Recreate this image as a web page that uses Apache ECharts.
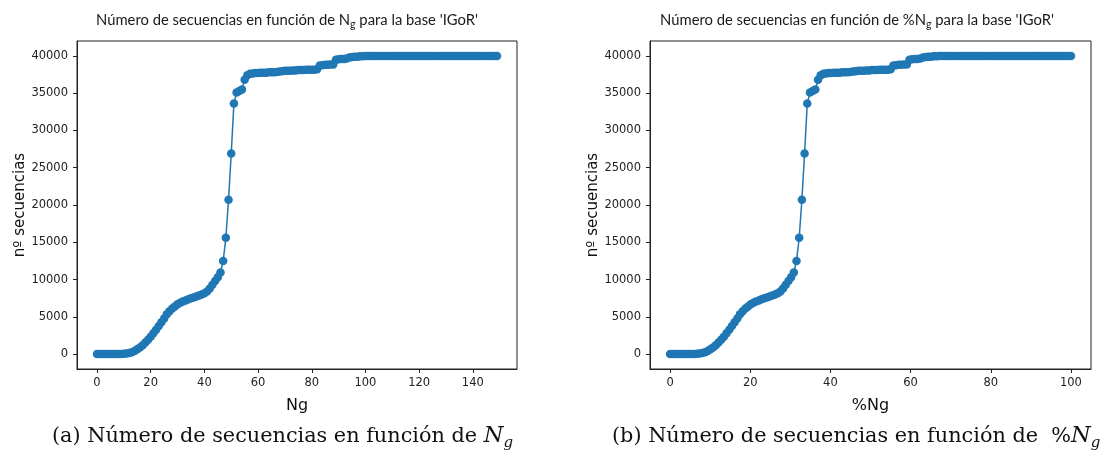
<!DOCTYPE html>
<html>
<head>
<meta charset="utf-8">
<script src="https://cdn.jsdelivr.net/npm/echarts@6/dist/echarts.min.js"></script>
<style>
  html, body { margin: 0; padding: 0; background: #ffffff; }
  #chart { width: 1106px; height: 458px; }
</style>
</head>
<body>
<div id="chart"></div>
<script>
// Number of sequences of the 'IGoR' base kept for each value of Ng (0 .. 149)
const sequenceCounts = [
  0, 0, 0, 0, 0, 0, 0, 0, 0, 20,
  40, 80, 150, 260, 420, 640, 900, 1200, 1550, 1920,
  2320, 2780, 3260, 3760, 4260, 4780, 5350, 5750, 6100, 6400,
  6700, 6900, 7050, 7200, 7350, 7480, 7600, 7720, 7850, 8000,
  8150, 8400, 8800, 9300, 9800, 10300, 10950, 12500, 15600, 20700,
  26900, 33600, 35100, 35300, 35500, 36800, 37400, 37600, 37650, 37700,
  37700, 37750, 37750, 37750, 37800, 37800, 37800, 37850, 37900, 37950,
  38000, 38000, 38000, 38050, 38050, 38100, 38100, 38100, 38150, 38150,
  38150, 38150, 38200, 38700, 38750, 38800, 38800, 38850, 38850, 39500,
  39550, 39600, 39600, 39650, 39800, 39850, 39900, 39900, 39950, 39950,
  40000, 40000, 40000, 40000, 40000, 40000, 40000, 40000, 40000, 40000,
  40000, 40000, 40000, 40000, 40000, 40000, 40000, 40000, 40000, 40000,
  40000, 40000, 40000, 40000, 40000, 40000, 40000, 40000, 40000, 40000,
  40000, 40000, 40000, 40000, 40000, 40000, 40000, 40000, 40000, 40000,
  40000, 40000, 40000, 40000, 40000, 40000, 40000, 40000, 40000, 40000
];

// Ng runs over the integers 0 .. 149, one per count
const ngValues = sequenceCounts.map((_, i) => i);
const maxNg = ngValues[ngValues.length - 1];
// %Ng: Ng expressed as a percentage of its largest value
const pctValues = ngValues.map(n => n / maxNg * 100);

const ngTicks = [0, 20, 40, 60, 80, 100, 120, 140];
const pctTicks = [0, 20, 40, 60, 80, 100];
const countTicks = [0, 5000, 10000, 15000, 20000, 25000, 30000, 35000, 40000];

const blue = '#1f77b4';
const ink = '#222222';
const plain = v => String(Math.round(v));

const chart = echarts.init(document.getElementById('chart'), null, { renderer: 'canvas' });

function xAxisFor(gridIndex, min, max, ticks, name) {
  return {
    type: 'value', gridIndex, min, max,
    name, nameLocation: 'middle', nameGap: 29,
    nameTextStyle: { fontFamily: 'DejaVu Sans', fontSize: 16, color: '#111' },
    axisLine: { show: true, onZero: false, lineStyle: { color: ink, width: 1 } },
    axisTick: { show: true, customValues: ticks, length: 4, inside: false, lineStyle: { color: ink } },
    axisLabel: { customValues: ticks, formatter: plain, margin: 8, fontFamily: 'DejaVu Sans', fontSize: 11.5, color: ink },
    splitLine: { show: false }
  };
}

function yAxisFor(gridIndex) {
  return {
    type: 'value', gridIndex, min: -2000, max: 42000,
    name: 'nº secuencias', nameLocation: 'middle', nameGap: 45, nameRotate: 90,
    nameTextStyle: { fontFamily: 'DejaVu Sans', fontSize: 15, color: '#111' },
    axisLine: { show: true, onZero: false, lineStyle: { color: ink, width: 1 } },
    axisTick: { show: true, customValues: countTicks, length: 4, inside: false, lineStyle: { color: ink } },
    axisLabel: { customValues: countTicks, formatter: plain, margin: 9, fontFamily: 'DejaVu Sans', fontSize: 11.5, color: ink },
    splitLine: { show: false }
  };
}

function titleFor(centerX, prefix) {
  return {
    text: '{a|Número de secuencias en función de ' + prefix + 'N}{s|g}{a| para la base \'IGoR\'}',
    left: centerX, top: 6, textAlign: 'center',
    textStyle: {
      fontWeight: 'normal',
      rich: {
        a: { fontFamily: 'Lato', fontWeight: 'normal', fontSize: 14.8, color: '#1a1a1a', lineHeight: 19, verticalAlign: 'middle' },
        s: { fontFamily: 'Lato', fontWeight: 'normal', fontSize: 10.5, color: '#1a1a1a', lineHeight: 13, verticalAlign: 'bottom' }
      }
    }
  };
}

function captionFor(x, text) {
  return {
    type: 'text', left: x, top: 425,
    style: {
      text,
      rich: {
        r: { fontFamily: 'DejaVu Serif', fontSize: 20.8, fill: '#111', lineHeight: 28, verticalAlign: 'middle' },
        i: { fontFamily: 'DejaVu Serif', fontStyle: 'italic', fontSize: 22.5, fill: '#111', lineHeight: 28, verticalAlign: 'middle' },
        s: { fontFamily: 'DejaVu Serif', fontStyle: 'italic', fontSize: 15, fill: '#111', lineHeight: 18, verticalAlign: 'bottom' }
      }
    }
  };
}

function seriesFor(xAxisIndex, xs) {
  return {
    type: 'line', xAxisIndex, yAxisIndex: xAxisIndex,
    data: xs.map((x, i) => [x, sequenceCounts[i]]),
    symbol: 'circle', symbolSize: 8.5, showAllSymbol: true,
    lineStyle: { color: blue, width: 1.5 },
    itemStyle: { color: blue },
    silent: true, animation: false
  };
}

chart.setOption({
  backgroundColor: '#ffffff',
  animation: false,
  title: [
    titleFor(282, ''),
    titleFor(852, '%')
  ],
  grid: [
    { left: 77, top: 41, width: 440, height: 328, show: true, borderColor: ink, borderWidth: 1, backgroundColor: 'transparent' },
    { left: 650, top: 41, width: 441, height: 328, show: true, borderColor: ink, borderWidth: 1, backgroundColor: 'transparent' }
  ],
  xAxis: [
    xAxisFor(0, -7.45, 156.45, ngTicks, 'Ng'),
    xAxisFor(1, -5, 105, pctTicks, '%Ng')
  ],
  yAxis: [yAxisFor(0), yAxisFor(1)],
  series: [
    seriesFor(0, ngValues),
    seriesFor(1, pctValues)
  ],
  graphic: [
    captionFor(52, '{r|(a) Número de secuencias en función de }{i|N}{s|g}'),
    captionFor(612, '{r|(b) Número de secuencias en función de  %}{i|N}{s|g}')
  ]
});
</script>
</body>
</html>
